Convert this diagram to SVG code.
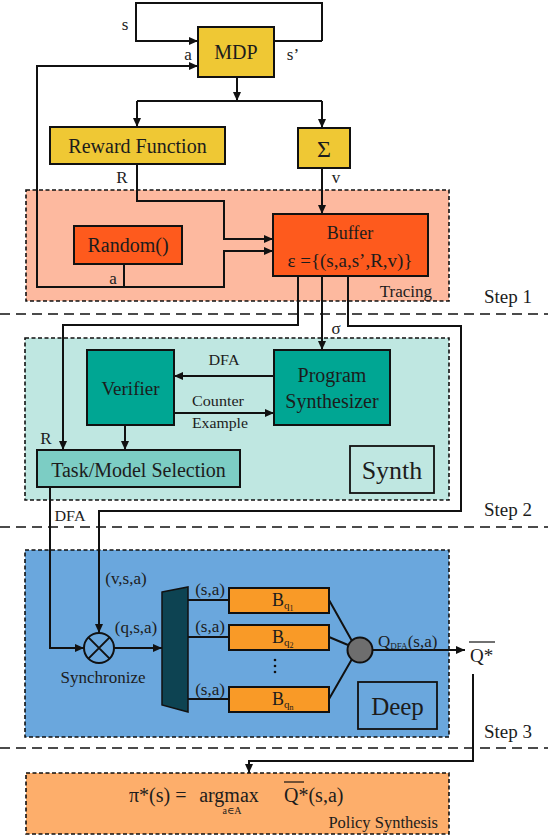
<svg xmlns="http://www.w3.org/2000/svg" width="548" height="836" viewBox="0 0 548 836">
<style>
text{font-family:"Liberation Serif","DejaVu Serif",serif;fill:#1c1c1c}
.box{stroke:#111;stroke-width:2}
.region{stroke:#111;stroke-width:1.6;stroke-dasharray:4,2.5}
.sep{stroke:#111;stroke-width:1.6;stroke-dasharray:10,6;fill:none}
.c{fill:none;stroke:#111;stroke-width:2}
.ca{fill:none;stroke:#111;stroke-width:2;marker-end:url(#ah)}
.lbl{font-size:17px}
.sm{font-size:14px}
.mid{text-anchor:middle}
</style>
<defs>
<marker id="ah" markerUnits="userSpaceOnUse" markerWidth="9" markerHeight="8" refX="9" refY="4" orient="auto">
<path d="M0,0 L9,4 L0,8 z" fill="#111"/>
</marker>
</defs>

<!-- regions -->
<g id="tracing-region">
<rect class="region" x="26" y="190" width="423" height="111" fill="#fdb99f"/>
<text x="432" y="297" font-size="17" text-anchor="end">Tracing</text>
</g>
<g id="synth-region">
<rect class="region" x="25" y="338" width="424" height="162" fill="#bfe7e1"/>
<rect x="350" y="446" width="84" height="47" fill="none" stroke="#111" stroke-width="1.8"/>
<text x="392" y="479" font-size="26" class="mid">Synth</text>
</g>
<g id="deep-region">
<rect class="region" x="25" y="550" width="424" height="187" fill="#6aa7dd"/>
<rect x="358" y="682" width="79" height="47" fill="none" stroke="#111" stroke-width="1.8"/>
<text x="397.5" y="715" font-size="25" class="mid">Deep</text>
</g>
<g id="policy-region">
<rect class="region" x="26" y="773" width="423" height="61" fill="#fdae6b"/>
<text x="438" y="828" font-size="16.5" text-anchor="end">Policy Synthesis</text>
</g>

<!-- separators -->
<g id="separators">
<line class="sep" x1="0" y1="314" x2="548" y2="314"/>
<line class="sep" x1="0" y1="527" x2="548" y2="527"/>
<line class="sep" x1="0" y1="748" x2="548" y2="748"/>
<text x="484" y="303" font-size="19">Step 1</text>
<text x="484" y="516" font-size="19">Step 2</text>
<text x="484" y="738" font-size="19">Step 3</text>
</g>

<!-- connectors -->
<g id="connectors">
<path class="ca" d="M322,41 L322,3 L136,3 L136,41 L198,41"/>
<path class="c" d="M274,41 L322,41"/>
<path class="ca" d="M124,264 L124,287 L37,287 L37,66 L198,66"/>
<path class="ca" d="M124,287 L224,287 L224,251 L273,251"/>
<path class="ca" d="M237,77 L237,101"/>
<path class="c" d="M137,101 L322,101"/>
<path class="ca" d="M137,101 L137,127"/>
<path class="ca" d="M322,101 L322,128"/>
<path class="ca" d="M137,164 L137,201 L224,201 L224,239 L273,239"/>
<path class="ca" d="M322,168 L322,214"/>
<path class="ca" d="M298,276 L298,325 L63,325 L63,450"/>
<path class="ca" d="M322,276 L322,350"/>
<path class="ca" d="M348,276 L348,326 L461,326 L461,511 L99,511 L99,633"/>
<path class="ca" d="M274,376 L174,376"/>
<path class="ca" d="M174,413 L274,413"/>
<path class="ca" d="M125,425 L125,450"/>
<path class="ca" d="M50,487 L50,648 L84,648"/>
<path class="ca" d="M114,648 L162,648"/>
<path class="c" d="M188,600 L229,600 M188,637 L229,637 M188,699 L229,699"/>
<path class="c" d="M329,600 L352,641 M329,637 L348,645 M329,699 L352,659"/>
<path class="ca" d="M372,650 L465,650"/>
<path class="ca" d="M473,674 L473,761 L249,761 L249,773"/>
<text x="125" y="30" class="lbl mid">s</text>
<text x="188" y="60" class="lbl mid">a</text>
<text x="293" y="60" class="lbl mid">s’</text>
<text x="122" y="183" class="lbl mid">R</text>
<text x="336" y="183" class="lbl mid">v</text>
<text x="113" y="284" class="lbl mid">a</text>
<text x="336" y="334" class="lbl mid">σ</text>
<text x="224" y="365" class="sm mid" textLength="31" lengthAdjust="spacingAndGlyphs">DFA</text>
<text x="218" y="406" class="sm mid" textLength="52" lengthAdjust="spacingAndGlyphs">Counter</text>
<text x="220" y="428" class="sm mid" textLength="56" lengthAdjust="spacingAndGlyphs">Example</text>
<text x="46" y="444" class="lbl mid">R</text>
<text x="70" y="521" class="sm mid" textLength="31" lengthAdjust="spacingAndGlyphs">DFA</text>
<text x="126" y="584" class="lbl mid">(v,s,a)</text>
<text x="136" y="633" class="lbl mid">(q,s,a)</text>
<text x="210" y="595" class="lbl mid">(s,a)</text>
<text x="210" y="632" class="lbl mid">(s,a)</text>
<text x="210" y="695" class="lbl mid">(s,a)</text>
<text x="378" y="647" font-size="17">Q<tspan font-size="9" dy="2">DFA</tspan><tspan dy="-2">(s,a)</tspan></text>
<text x="470" y="662" font-size="19">Q*</text>
<line x1="469" y1="642" x2="495" y2="642" stroke="#111" stroke-width="1.2"/>
</g>

<!-- nodes -->
<g id="mdp">
<rect class="box" x="198" y="27" width="76" height="50" fill="#efc834"/>
<text x="236" y="59" font-size="20" class="mid">MDP</text>
</g>
<g id="reward-function">
<rect class="box" x="50" y="127" width="175" height="37" fill="#efc834"/>
<text x="137.5" y="153" font-size="20" class="mid">Reward Function</text>
</g>
<g id="sigma">
<rect class="box" x="298" y="128" width="52" height="40" fill="#efc834"/>
<text x="324" y="157" font-size="24" class="mid">Σ</text>
</g>
<g id="random">
<rect class="box" x="74" y="226" width="108" height="38" fill="#fe5a1d"/>
<text x="128" y="252" font-size="20" class="mid">Random()</text>
</g>
<g id="buffer">
<rect class="box" x="273" y="214" width="155" height="62" fill="#fe5a1d"/>
<text x="350" y="239" font-size="18" class="mid">Buffer</text>
<text x="350" y="267" font-size="18" class="mid" textLength="125" lengthAdjust="spacingAndGlyphs">ε ={(s,a,s’,R,v)}</text>
</g>
<g id="verifier">
<rect class="box" x="87" y="350" width="87" height="75" fill="#00a693"/>
<text x="130.5" y="395" font-size="19" class="mid">Verifier</text>
</g>
<g id="program-synthesizer">
<rect class="box" x="274" y="350" width="116" height="75" fill="#00a693"/>
<text x="332" y="382" font-size="20" class="mid">Program</text>
<text x="332" y="408" font-size="20" class="mid">Synthesizer</text>
</g>
<g id="task-model-selection">
<rect class="box" x="37" y="450" width="203" height="37" fill="#7ccdc4"/>
<text x="138.5" y="477" font-size="20" class="mid">Task/Model Selection</text>
</g>
<g id="synchronize">
<circle cx="99" cy="648" r="15" fill="none" stroke="#111" stroke-width="2"/>
<path d="M88.4,637.4 L109.6,658.6 M109.6,637.4 L88.4,658.6" stroke="#111" stroke-width="2"/>
<text x="103" y="683" class="lbl mid">Synchronize</text>
</g>
<g id="demux">
<polygon points="162,592 188,587 188,712 162,705" fill="#0d4352" stroke="#111" stroke-width="1.5"/>
</g>
<g id="b-q1">
<rect class="box" x="229" y="588" width="100" height="25" fill="#f99a27"/>
<text x="272" y="606" font-size="18">B<tspan font-size="11" dy="3">q</tspan><tspan font-size="8" dy="2">1</tspan></text>
</g>
<g id="b-q2">
<rect class="box" x="229" y="625" width="100" height="25" fill="#f99a27"/>
<text x="272" y="643" font-size="18">B<tspan font-size="11" dy="3">q</tspan><tspan font-size="8" dy="2">2</tspan></text>
</g>
<g id="b-dots">
<circle cx="275" cy="660" r="1.3" fill="#111"/>
<circle cx="275" cy="666" r="1.3" fill="#111"/>
<circle cx="275" cy="672" r="1.3" fill="#111"/>
</g>
<g id="b-qn">
<rect class="box" x="229" y="687" width="100" height="25" fill="#f99a27"/>
<text x="272" y="705" font-size="18">B<tspan font-size="11" dy="3">q</tspan><tspan font-size="8" dy="2">n</tspan></text>
</g>
<g id="combiner">
<circle cx="360" cy="650" r="12.5" fill="#6e6e6e" stroke="#111" stroke-width="2"/>
</g>
<g id="policy-formula">
<text x="129" y="802" font-size="20">π*(s) =</text>
<text x="229" y="802" font-size="20" class="mid">argmax</text>
<text x="232" y="814" font-size="10" class="mid">a∈A</text>
<text x="284" y="802" font-size="20">Q*(s,a)</text>
<line x1="284" y1="782" x2="304" y2="782" stroke="#111" stroke-width="1.2"/>
</g>
</svg>
